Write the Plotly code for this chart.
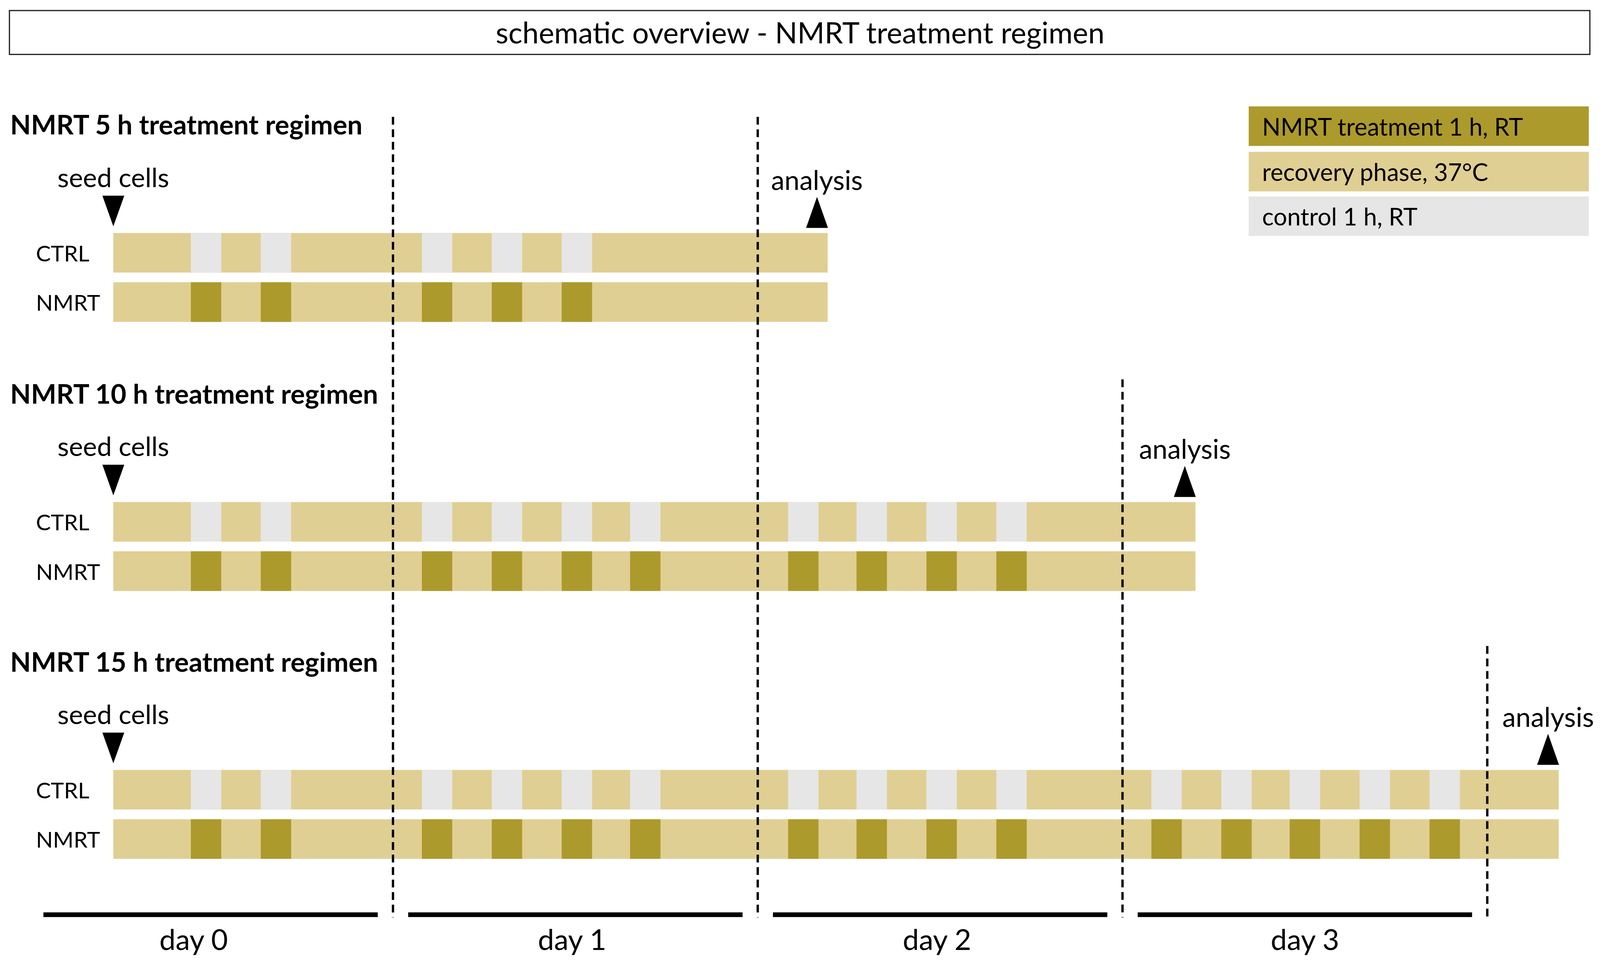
import plotly.graph_objects as go

# schematic timeline, x axis in (schematic) hours, day 0 starts at 0
regimens = ['NMRT 5 h treatment regimen', 'NMRT 10 h treatment regimen', 'NMRT 15 h treatment regimen']
row_labels = ['CTRL', 'NMRT']
seed_h = 5.6
end_h = [52.6, 76.8, 100.7]
analysis_h = [51.9, 76.1, 100.0]
pulse_starts = [10.7, 15.3,
                25.9, 30.5, 35.1, 39.6,
                50.0, 54.5, 59.1, 63.7,
                73.9, 78.5, 83.0, 87.6, 92.2]
n_pulses = [5, 10, 15]
pulse_len = 2.0
day_bounds = [24, 48, 72, 96]
day_labels = ['day 0', 'day 1', 'day 2', 'day 3']
day_label_h = [10.9, 35.8, 59.8, 84.0]
day_line_h = [[1.0, 23.0], [25.0, 47.0], [49.0, 71.0], [73.0, 95.0]]
legend_labels = ['NMRT treatment 1 h, RT', 'recovery phase, 37°C', 'control 1 h, RT']

# reference frame used for placing things (figure fills the window)
W, H = 4550, 2472
PX_H = 43.39            # reference pixels per hour
X_AT_24 = 1113
FONT = 'Lato'

C_TREAT = '#AD9A2C'
C_REC = '#E0CF93'
C_CTRL = '#E6E6E6'
legend_colors = [C_TREAT, C_REC, C_CTRL]

# vertical layout (y axis runs in reference pixels, top = 0)
bar_top = [592, 1285, 1975]
bar_h = 102
row_gap = 127
header_off = 280
dash_top = [293, 293, 969, 1656]
dash_bottom = 2355

xr = [24 - X_AT_24 / PX_H, 24 + (W - X_AT_24) / PX_H]
tri = 0.72              # half width of the seed / analysis arrow heads, hours

fig = go.Figure()
annotations = []
shapes = []

for i, name in enumerate(regimens):
    starts = pulse_starts[:n_pulses[i]]
    for j, lab in enumerate(row_labels):
        yc = bar_top[i] + j * row_gap + bar_h / 2
        fig.add_trace(go.Bar(
            orientation='h', y=[yc], base=[seed_h], x=[end_h[i] - seed_h],
            width=bar_h, marker=dict(color=C_REC, line=dict(width=0)),
            showlegend=False, hoverinfo='skip'))
        fig.add_trace(go.Bar(
            orientation='h', y=[yc] * len(starts), base=starts, x=[pulse_len] * len(starts),
            width=bar_h, marker=dict(color=C_CTRL if lab == 'CTRL' else C_TREAT, line=dict(width=0)),
            showlegend=False, hoverinfo='skip'))
        annotations.append(dict(x=92 / W, xref='paper', y=yc, yref='y', text=lab,
                                xanchor='left', yanchor='middle', showarrow=False,
                                font=dict(size=57)))

    # seed cells marker
    t0 = bar_top[i]
    fig.add_trace(go.Scatter(
        x=[seed_h - tri, seed_h + tri, seed_h, seed_h - tri],
        y=[t0 - 96, t0 - 96, t0 - 17, t0 - 96],
        mode='lines', fill='toself', fillcolor='black', line=dict(width=0, color='black'),
        showlegend=False, hoverinfo='skip'))
    annotations.append(dict(x=seed_h, y=t0 - 145, text='seed cells', showarrow=False,
                            xanchor='center', yanchor='middle', font=dict(size=68)))

    # analysis marker
    a = analysis_h[i]
    fig.add_trace(go.Scatter(
        x=[a - tri, a + tri, a, a - tri],
        y=[t0 - 13, t0 - 13, t0 - 93, t0 - 13],
        mode='lines', fill='toself', fillcolor='black', line=dict(width=0, color='black'),
        showlegend=False, hoverinfo='skip'))
    annotations.append(dict(x=a, y=t0 - 138, text='analysis', showarrow=False,
                            xanchor='center', yanchor='middle', font=dict(size=69)))

    annotations.append(dict(x=18 / W, xref='paper', y=t0 - header_off, yref='y',
                            text='<b>' + name + '</b>', showarrow=False,
                            xanchor='left', yanchor='middle', font=dict(size=69)))

# day boundaries
for k, d in enumerate(day_bounds):
    shapes.append(dict(type='line', xref='x', yref='y', x0=d, x1=d, y0=dash_top[k], y1=dash_bottom,
                       line=dict(color='black', width=6, dash='20px,12px')))

# day bars and labels
for k, lab in enumerate(day_labels):
    shapes.append(dict(type='line', xref='x', yref='y', x0=day_line_h[k][0], x1=day_line_h[k][1],
                       y0=2348, y1=2348, line=dict(color='black', width=12)))
    annotations.append(dict(x=day_label_h[k], y=2410, text=lab, showarrow=False,
                            xanchor='center', yanchor='middle', font=dict(size=74)))

# legend boxes
leg_top = [266, 383, 498]
for k, lab in enumerate(legend_labels):
    shapes.append(dict(type='rect', xref='paper', yref='y', x0=3556 / W, x1=4527 / W,
                       y0=leg_top[k], y1=leg_top[k] + 102, fillcolor=legend_colors[k],
                       line=dict(width=0), layer='below'))
    annotations.append(dict(x=3592 / W, xref='paper', y=leg_top[k] + 51, yref='y', text=lab,
                            showarrow=False, xanchor='left', yanchor='middle', font=dict(size=62)))

# title box
shapes.append(dict(type='rect', xref='paper', yref='y', x0=18 / W, x1=4530 / W, y0=19, y1=132,
                   line=dict(color='#1a1a1a', width=3), fillcolor='rgba(0,0,0,0)'))
annotations.append(dict(x=0.5, xref='paper', y=74, yref='y',
                        text='schematic overview - NMRT treatment regimen', showarrow=False,
                        xanchor='center', yanchor='middle', font=dict(size=75)))

fig.update_layout(
    autosize=True, margin=dict(l=0, r=0, t=0, b=0),
    paper_bgcolor='white', plot_bgcolor='white',
    barmode='overlay', showlegend=False,
    font=dict(family=FONT, color='black'),
    xaxis=dict(range=xr, visible=False, fixedrange=True),
    yaxis=dict(range=[H, 0], visible=False, fixedrange=True),
    shapes=shapes, annotations=annotations,
)

fig.write_html('out.html')
